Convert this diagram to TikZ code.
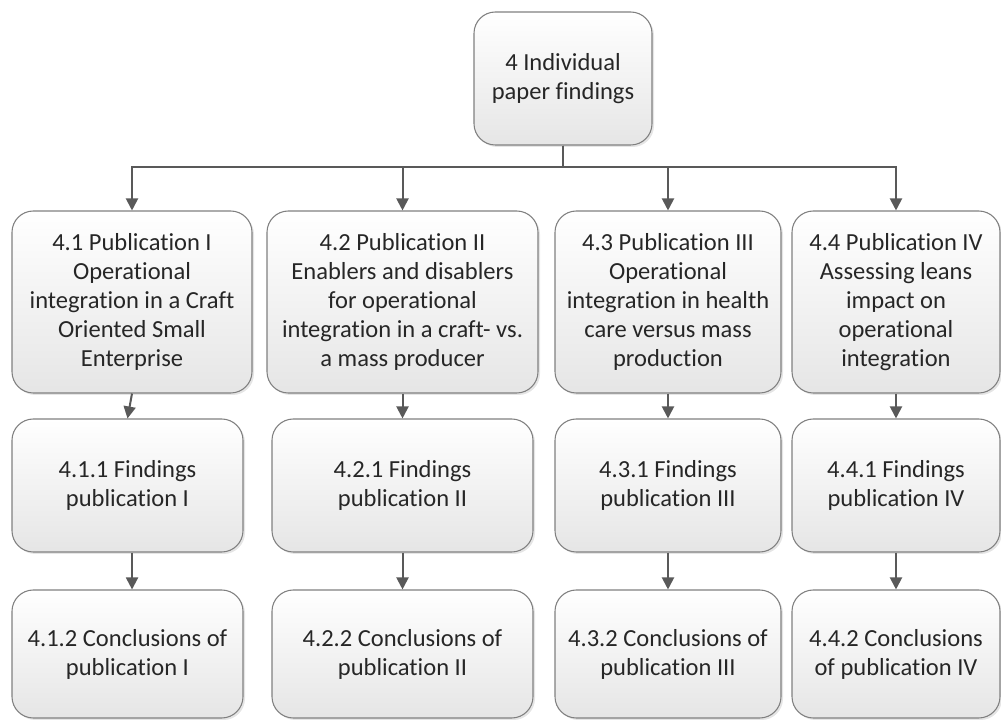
\documentclass[tikz,border=0pt]{standalone}
\usepackage{fontspec}
\setmainfont{Carlito}[Ligatures=CommonOff]
\usetikzlibrary{arrows.meta,shadows}
\definecolor{linegray}{HTML}{595959}
\definecolor{edgegray}{HTML}{808080}
\definecolor{txtgray}{HTML}{262626}
\begin{document}
\begin{tikzpicture}[x=0.75pt,y=-0.75pt,
  box/.style={rounded corners=16pt, draw=edgegray, line width=0.8pt,
    top color=white, bottom color=black!10, align=center, text=txtgray,
    font=\fontsize{18.4}{21.8}\selectfont, inner sep=0pt,
    drop shadow={shadow xshift=1.5pt, shadow yshift=-1.5pt, fill=black!20}},
  link/.style={draw=linegray, line width=1.5pt, -{Triangle[length=9pt,width=9pt]}}]
\useasboundingbox (0,0) rectangle (1001,720);

% chapter heading
\node[box, minimum width=133.5pt, minimum height=99.75pt] (top) at (563,78.5)
  {4 Individual\\paper findings};

% publications
\node[box, minimum width=180pt, minimum height=136.5pt] (p1) at (132,302)
  {4.1 Publication I\\Operational\\integration in a Craft\\Oriented Small\\Enterprise};
\node[box, minimum width=203.25pt, minimum height=136.5pt] (p2) at (402.5,302)
  {4.2 Publication II\\Enablers and disablers\\for operational\\integration in a craft- vs.\\a mass producer};
\node[box, minimum width=169.5pt, minimum height=136.5pt] (p3) at (668,302)
  {4.3 Publication III\\Operational\\integration in health\\care versus mass\\production};
\node[box, minimum width=156pt, minimum height=136.5pt] (p4) at (896,302)
  {4.4 Publication IV\\Assessing leans\\impact on\\operational\\integration};

% findings
\node[box, minimum width=173.25pt, minimum height=99.75pt] (f1) at (127.5,485.5)
  {4.1.1 Findings\\publication I};
\node[box, minimum width=195.75pt, minimum height=99.75pt] (f2) at (402.5,485.5)
  {4.2.1 Findings\\publication II};
\node[box, minimum width=169.5pt, minimum height=99.75pt] (f3) at (668,485.5)
  {4.3.1 Findings\\publication III};
\node[box, minimum width=156pt, minimum height=99.75pt] (f4) at (896,485.5)
  {4.4.1 Findings\\publication IV};

% conclusions
\node[box, minimum width=173.25pt, minimum height=96pt] (c1) at (127.5,654)
  {4.1.2 Conclusions of\\publication I};
\node[box, minimum width=195.75pt, minimum height=96pt] (c2) at (402.5,654)
  {4.2.2 Conclusions of\\publication II};
\node[box, minimum width=169.5pt, minimum height=96pt] (c3) at (668,654)
  {4.3.2 Conclusions of\\publication III};
\node[box, minimum width=156pt, minimum height=96pt] (c4) at (896,654)
  {4.4.2 Conclusions\\of publication IV};

% branching bus
\coordinate (bus) at (563,167);
\foreach \p in {p1,p2,p3,p4}
  \draw[link] (top.south) -- (bus) -| (\p.north);

% publication -> findings
\draw[link] (p1.south) -- (f1.north);
\foreach \i in {2,3,4}
  \draw[link] (p\i.south) -- (f\i.north);

% findings -> conclusions
\draw[link] ([xshift=3.4pt]f1.south) -- ([xshift=3.4pt]c1.north);
\foreach \i in {2,3,4}
  \draw[link] (f\i.south) -- (c\i.north);
\end{tikzpicture}
\end{document}
